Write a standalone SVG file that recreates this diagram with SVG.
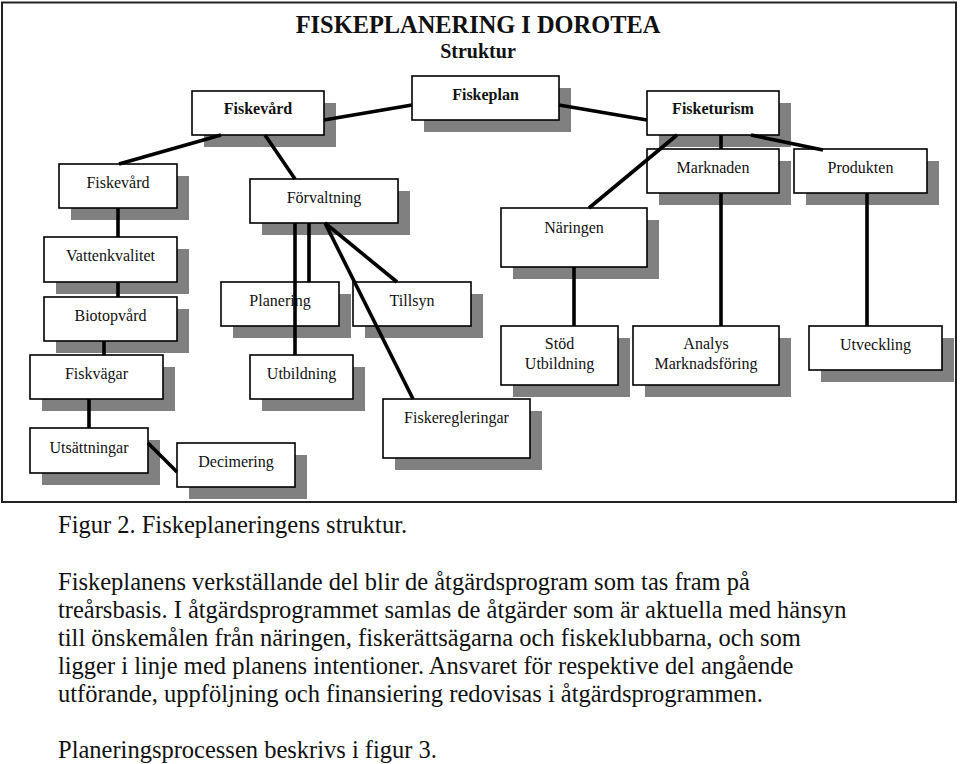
<svg xmlns="http://www.w3.org/2000/svg" width="960" height="764" viewBox="0 0 960 764">
<style>
.sh{fill:#808080}
.bx{fill:#fff;stroke:#000;stroke-width:1.6}
.t{font-family:"Liberation Serif","Times New Roman",serif;font-size:16px;fill:#111;text-anchor:middle}
.b{font-weight:bold}
.c line{stroke:#000;stroke-width:3.6;stroke-linecap:butt}
.body{font-family:"Liberation Serif","Times New Roman",serif;font-size:24.5px;fill:#111}
</style>
<rect x="0" y="0" width="960" height="764" fill="#fff"/>
<rect x="2" y="2.5" width="954" height="499.5" fill="#fff" stroke="#222" stroke-width="2"/>
<g id="title">
<text x="478" y="33" class="t b" style="font-size:24.4px">FISKEPLANERING I DOROTEA</text>
<text x="478" y="58" class="t b" style="font-size:20px">Struktur</text>
</g>
<g id="n-fiskevard-top"><rect class="sh" x="204" y="103" width="132" height="44"/><rect class="bx" x="192" y="91" width="132" height="44"/><text class="t b" x="258" y="114">Fiskevård</text></g>
<g id="n-fiskeplan"><rect class="sh" x="424" y="88" width="147" height="44"/><rect class="bx" x="412" y="76" width="147" height="44"/><text class="t b" x="485.5" y="100">Fiskeplan</text></g>
<g id="n-fisketurism"><rect class="sh" x="659" y="103" width="132" height="44"/><rect class="bx" x="647" y="91" width="132" height="44"/><text class="t b" x="713" y="114">Fisketurism</text></g>
<g id="n-fiskevard"><rect class="sh" x="71" y="176" width="118" height="44"/><rect class="bx" x="59" y="164" width="118" height="44"/><text class="t" x="118" y="188">Fiskevård</text></g>
<g id="n-forvaltning"><rect class="sh" x="262" y="191" width="148" height="44"/><rect class="bx" x="250" y="179" width="148" height="44"/><text class="t" x="324" y="203">Förvaltning</text></g>
<g id="n-vattenkvalitet"><rect class="sh" x="56" y="249" width="133" height="45"/><rect class="bx" x="44" y="237" width="133" height="45"/><text class="t" x="110.5" y="261">Vattenkvalitet</text></g>
<g id="n-biotopvard"><rect class="sh" x="56" y="309" width="133" height="44"/><rect class="bx" x="44" y="297" width="133" height="44"/><text class="t" x="110.5" y="320.5">Biotopvård</text></g>
<g id="n-fiskvagar"><rect class="sh" x="42" y="367" width="133" height="44"/><rect class="bx" x="30" y="355" width="133" height="44"/><text class="t" x="96.5" y="379">Fiskvägar</text></g>
<g id="n-utsattningar"><rect class="sh" x="42" y="440" width="118" height="45"/><rect class="bx" x="30" y="428" width="118" height="45"/><text class="t" x="89" y="452.5">Utsättningar</text></g>
<g id="n-decimering"><rect class="sh" x="189" y="455" width="118" height="44"/><rect class="bx" x="177" y="443" width="118" height="44"/><text class="t" x="236" y="467">Decimering</text></g>
<g id="n-planering"><rect class="sh" x="233" y="294" width="118" height="44"/><rect class="bx" x="221" y="282" width="118" height="44"/><text class="t" x="280" y="306">Planering</text></g>
<g id="n-tillsyn"><rect class="sh" x="365" y="294" width="118" height="44"/><rect class="bx" x="353" y="282" width="118" height="44"/><text class="t" x="412" y="306">Tillsyn</text></g>
<g id="n-utbildning"><rect class="sh" x="262" y="367" width="103" height="44"/><rect class="bx" x="250" y="355" width="103" height="44"/><text class="t" x="301.5" y="379">Utbildning</text></g>
<g id="n-fiskeregleringar"><rect class="sh" x="395" y="411" width="147" height="59"/><rect class="bx" x="383" y="399" width="147" height="59"/><text class="t" x="456.5" y="423">Fiskeregleringar</text></g>
<g id="n-naringen"><rect class="sh" x="513" y="220" width="146" height="59"/><rect class="bx" x="501" y="208" width="146" height="59"/><text class="t" x="574" y="232.5">Näringen</text></g>
<g id="n-marknaden"><rect class="sh" x="659" y="161" width="132" height="44"/><rect class="bx" x="647" y="149" width="132" height="44"/><text class="t" x="713" y="173">Marknaden</text></g>
<g id="n-produkten"><rect class="sh" x="806" y="161" width="133" height="44"/><rect class="bx" x="794" y="149" width="133" height="44"/><text class="t" x="860.5" y="173">Produkten</text></g>
<g id="n-stod"><rect class="sh" x="513" y="338" width="117" height="59"/><rect class="bx" x="501" y="326" width="117" height="59"/><text class="t" x="559.5" y="349">Stöd</text><text class="t" x="559.5" y="369">Utbildning</text></g>
<g id="n-analys"><rect class="sh" x="645" y="338" width="146" height="59"/><rect class="bx" x="633" y="326" width="146" height="59"/><text class="t" x="706" y="349">Analys</text><text class="t" x="706" y="369">Marknadsföring</text></g>
<g id="n-utveckling"><rect class="sh" x="821" y="338" width="133" height="44"/><rect class="bx" x="809" y="326" width="133" height="44"/><text class="t" x="875.5" y="350">Utveckling</text></g>
<g id="connectors" class="c">
<line x1="324" y1="120" x2="412" y2="105"/>
<line x1="559" y1="105" x2="647" y2="120"/>
<line x1="221" y1="135" x2="119" y2="164"/>
<line x1="265" y1="135" x2="295" y2="179"/>
<line x1="118" y1="208" x2="118" y2="237"/>
<line x1="118" y1="282" x2="118" y2="297"/>
<line x1="104" y1="341" x2="104" y2="355"/>
<line x1="89" y1="399" x2="89" y2="428"/>
<line x1="148" y1="443" x2="177" y2="472"/>
<line x1="295" y1="223" x2="295" y2="355"/>
<line x1="309" y1="223" x2="309" y2="282"/>
<line x1="325" y1="223" x2="397" y2="282"/>
<line x1="325" y1="223" x2="413" y2="399"/>
<line x1="677" y1="135" x2="589" y2="208"/>
<line x1="721" y1="135" x2="721" y2="149"/>
<line x1="751" y1="135" x2="823" y2="150"/>
<line x1="721" y1="193" x2="721" y2="326"/>
<line x1="867" y1="193" x2="867" y2="326"/>
<line x1="574" y1="267" x2="574" y2="326"/>
</g>
<g id="caption">
<text class="body" x="58" y="533">Figur 2. Fiskeplaneringens struktur.</text>
<text class="body" x="58" y="590">Fiskeplanens verkställande del blir de åtgärdsprogram som tas fram på</text>
<text class="body" x="58" y="618">treårsbasis. I åtgärdsprogrammet samlas de åtgärder som är aktuella med hänsyn</text>
<text class="body" x="58" y="646">till önskemålen från näringen, fiskerättsägarna och fiskeklubbarna, och som</text>
<text class="body" x="58" y="674">ligger i linje med planens intentioner. Ansvaret för respektive del angående</text>
<text class="body" x="58" y="702">utförande, uppföljning och finansiering redovisas i åtgärdsprogrammen.</text>
<text class="body" x="58" y="758">Planeringsprocessen beskrivs i figur 3.</text>
</g>
</svg>
